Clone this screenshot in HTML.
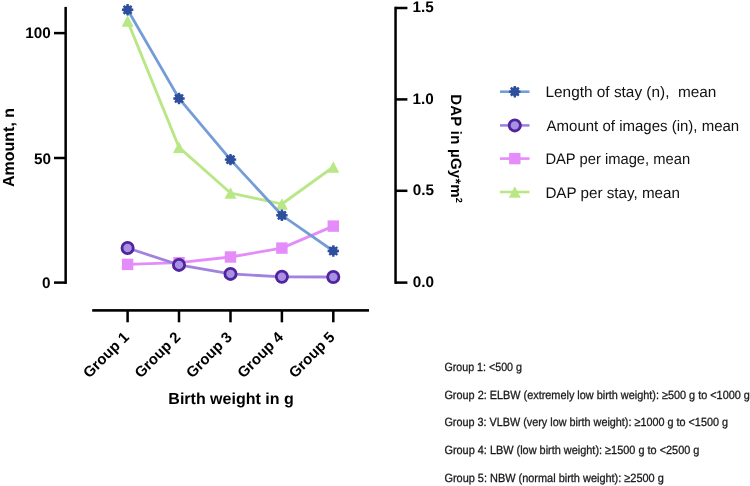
<!DOCTYPE html>
<html><head><meta charset="utf-8"><style>
html,body{margin:0;padding:0;background:#fff;}
svg{display:block;will-change:transform;}
text{font-family:"Liberation Sans",sans-serif;text-rendering:geometricPrecision;}
</style></head><body>
<svg width="750" height="486" viewBox="0 0 750 486">
<defs>
<g id="star"><circle r="4.4" fill="#2d4f9e"/><path d="M0-5.7V5.7M-5.7 0H5.7M-4 -4L4 4M-4 4L4 -4" stroke="#2d4f9e" stroke-width="2.4"/></g>
<circle id="circ" r="5.6" fill="#a891e1" stroke="#50239f" stroke-width="2.8"/>
<rect id="sq" x="-5.7" y="-5.7" width="11.4" height="11.4" fill="#e48cf9"/>
<path id="tri" d="M0-5.8L6 5.7H-6Z" fill="#b9e785"/>
</defs>
<rect width="750" height="486" fill="#fff"/>
<g fill="#000">
<rect x="64.4" y="6.9" width="2.5" height="277"/>
<rect x="54" y="31.85" width="12" height="2.5"/>
<rect x="54" y="156.75" width="12" height="2.5"/>
<rect x="54" y="281.35" width="12" height="2.5"/>
<rect x="394.3" y="6.8" width="2.5" height="277"/>
<rect x="395" y="6.75" width="12.4" height="2.5"/>
<rect x="395" y="98.15" width="12.4" height="2.5"/>
<rect x="395" y="189.55" width="12.4" height="2.5"/>
<rect x="395" y="281.35" width="12.4" height="2.5"/>
<rect x="92.2" y="309.1" width="276.8" height="2.6"/>
<rect x="126.35" y="310" width="2.5" height="12.3"/><rect x="177.75" y="310" width="2.5" height="12.3"/><rect x="229.25" y="310" width="2.5" height="12.3"/><rect x="280.65" y="310" width="2.5" height="12.3"/><rect x="332.05" y="310" width="2.5" height="12.3"/>
</g>
<g font-weight="bold" font-size="15.3" fill="#000">
<text x="50.7" y="38.4" text-anchor="end">100</text>
<text x="50.9" y="163.6" text-anchor="end">50</text>
<text x="50.6" y="287.8" text-anchor="end">0</text>
<text x="412.6" y="12.4">1.5</text>
<text x="412.6" y="103.8">1.0</text>
<text x="412.7" y="195.2">0.5</text>
<text x="412.7" y="286.8">0.0</text>
</g>
<g font-weight="bold" font-size="15" fill="#000"><text x="0" y="0" text-anchor="end" transform="translate(129.9,338.0) rotate(-45)">Group 1</text><text x="0" y="0" text-anchor="end" transform="translate(181.3,338.0) rotate(-45)">Group 2</text><text x="0" y="0" text-anchor="end" transform="translate(232.8,338.0) rotate(-45)">Group 3</text><text x="0" y="0" text-anchor="end" transform="translate(284.2,338.0) rotate(-45)">Group 4</text><text x="0" y="0" text-anchor="end" transform="translate(335.6,338.0) rotate(-45)">Group 5</text></g>
<g font-weight="bold" font-size="16" fill="#000">
<text x="0" y="0" text-anchor="middle" transform="translate(13.7,147.5) rotate(-90)">Amount, n</text>
<text x="0" y="0" text-anchor="middle" font-size="15" letter-spacing="0.25" transform="translate(451.2,148.6) rotate(90)">DAP in &#181;Gy<tspan font-size="14">*</tspan>m<tspan font-size="9" dy="-4.8">2</tspan></text>
<text x="231" y="403.7" text-anchor="middle">Birth weight in g</text>
</g>
<g fill="none" stroke-width="2.8" stroke-linejoin="round">
<polyline points="127.6,21.1 179.0,147.4 230.5,193.0 281.9,204.0 333.3,167.0" stroke="#b9e785"/>
</g>
<use href="#tri" x="127.6" y="21.1"/><use href="#tri" x="179.0" y="147.4"/><use href="#tri" x="230.5" y="193.0"/><use href="#tri" x="281.9" y="204.0"/><use href="#tri" x="333.3" y="167.0"/>
<polyline points="127.6,264.4 179.0,262.7 230.5,257.0 281.9,248.1 333.3,226.1" stroke="#e48cf9" fill="none" stroke-width="2.8"/>
<use href="#sq" x="127.6" y="264.4"/><use href="#sq" x="179.0" y="262.7"/><use href="#sq" x="230.5" y="257.0"/><use href="#sq" x="281.9" y="248.1"/><use href="#sq" x="333.3" y="226.1"/>
<polyline points="127.6,248.0 179.0,264.9 230.5,273.9 281.9,276.8 333.3,277.0" stroke="#a083e0" fill="none" stroke-width="2.8"/>
<use href="#circ" x="127.6" y="248.0"/><use href="#circ" x="179.0" y="264.9"/><use href="#circ" x="230.5" y="273.9"/><use href="#circ" x="281.9" y="276.8"/><use href="#circ" x="333.3" y="277.0"/>
<polyline points="127.6,9.8 179.0,98.5 230.5,159.6 281.9,215.3 333.3,251.0" stroke="#749dd8" fill="none" stroke-width="2.8"/>
<use href="#star" x="127.6" y="9.8"/><use href="#star" x="179.0" y="98.5"/><use href="#star" x="230.5" y="159.6"/><use href="#star" x="281.9" y="215.3"/><use href="#star" x="333.3" y="251.0"/>
<g font-size="15.3" fill="#111"><line x1="500" x2="529.5" y1="91.7" y2="91.7" stroke="#749dd8" stroke-width="2.6"/><use href="#star" x="514.8" y="91.7"/><line x1="500" x2="529.5" y1="125.4" y2="125.4" stroke="#a083e0" stroke-width="2.6"/><use href="#circ" x="514.8" y="125.4"/><line x1="500" x2="529.5" y1="158.6" y2="158.6" stroke="#e48cf9" stroke-width="2.6"/><use href="#sq" x="514.8" y="158.6"/><line x1="500" x2="529.5" y1="192.0" y2="192.0" stroke="#b9e785" stroke-width="2.6"/><use href="#tri" x="514.8" y="192.0"/><text x="545.5" y="97.2" textLength="170.9" lengthAdjust="spacingAndGlyphs">Length of stay (n),&#160; mean</text><text x="546.6" y="130.9" textLength="192.6" lengthAdjust="spacingAndGlyphs">Amount of images (in), mean</text><text x="545.4" y="164.1" textLength="144.7" lengthAdjust="spacingAndGlyphs">DAP per image, mean</text><text x="545.4" y="197.5" textLength="134.5" lengthAdjust="spacingAndGlyphs">DAP per stay, mean</text></g>
<g font-size="11.9" fill="#1a1a1a" stroke="#1a1a1a" stroke-width="0.3"><text x="444.4" y="371.0" textLength="77.6" lengthAdjust="spacingAndGlyphs">Group 1: &lt;500 g</text><text x="444.4" y="398.7" textLength="305.5" lengthAdjust="spacingAndGlyphs">Group 2: ELBW (extremely low birth weight): &#8805;500 g to &lt;1000 g</text><text x="444.4" y="426.4" textLength="283.6" lengthAdjust="spacingAndGlyphs">Group 3: VLBW (very low birth weight): &#8805;1000 g to &lt;1500 g</text><text x="444.4" y="454.1" textLength="255.0" lengthAdjust="spacingAndGlyphs">Group 4: LBW (low birth weight): &#8805;1500 g to &lt;2500 g</text><text x="444.4" y="481.8" textLength="219.4" lengthAdjust="spacingAndGlyphs">Group 5: NBW (normal birth weight): &#8805;2500 g</text></g>
</svg>
</body></html>
